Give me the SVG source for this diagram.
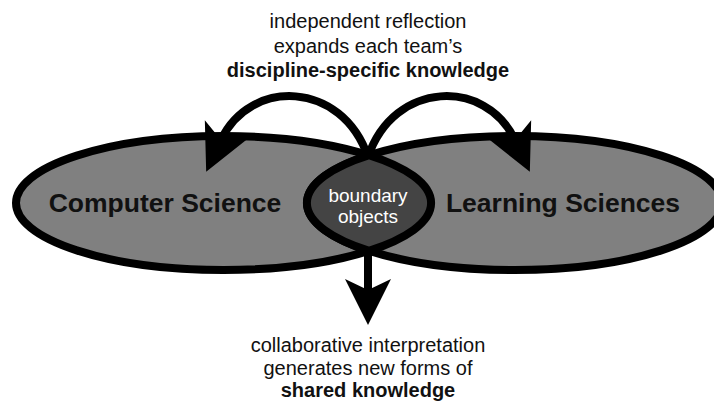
<svg xmlns="http://www.w3.org/2000/svg" width="714" height="401" viewBox="0 0 714 401">
  <style>
    .disc { fill: #808080; stroke: #000; stroke-width: 8; }
    .lens { fill: #444; stroke: #000; stroke-width: 8; stroke-linejoin: miter; }
    .big { font-family: "Liberation Sans", Arial, sans-serif; font-weight: bold; font-size: 26.5px; fill: #111; text-anchor: middle; }
    .small { font-family: "Liberation Sans", Arial, sans-serif; font-size: 19px; fill: #fff; text-anchor: middle; }
    .cap { font-family: "Liberation Sans", Arial, sans-serif; font-size: 20px; fill: #111; text-anchor: middle; }
    .capb { font-weight: bold; }
    .conn { fill: none; stroke: #000; stroke-width: 8; }
  </style>
  <defs>
    <marker id="head" markerUnits="userSpaceOnUse" viewBox="-15 -26 55 52" markerWidth="55" markerHeight="52" refX="0" refY="0" orient="auto" overflow="visible">
      <path d="M-11,-23 L35,0 L-11,23 L0,0 Z" fill="#000"/>
    </marker>
  </defs>
  <rect width="714" height="401" fill="#fff"/>

  <g id="computer-science">
    <ellipse class="disc" cx="223.5" cy="203" rx="207.5" ry="67"/>
    <text class="big" x="165" y="212">Computer Science</text>
  </g>

  <g id="learning-sciences">
    <ellipse class="disc" cx="514.5" cy="203" rx="207.5" ry="67"/>
    <text class="big" x="563" y="212">Learning Sciences</text>
  </g>

  <g id="boundary-objects">
    <path class="lens" d="M369,155.2 A207.5,67 0 0 1 369,250.8 A207.5,67 0 0 1 369,155.2 Z"/>
    <text class="small" x="368" y="202">boundary</text>
    <text class="small" x="368" y="223">objects</text>
  </g>

  <g id="connectors">
    <path class="conn" d="M368,157 C342,80 250,78 221,140" marker-end="url(#head)"/>
    <path class="conn" d="M368,157 C394,80 486,78 515,140" marker-end="url(#head)"/>
    <path class="conn" d="M368,249 L368,290" marker-end="url(#head)"/>
  </g>

  <g id="top-caption">
    <text class="cap" x="368" y="28">independent reflection</text>
    <text class="cap" x="368" y="52.5">expands each team’s</text>
    <text class="cap capb" x="368" y="77">discipline-specific knowledge</text>
  </g>

  <g id="bottom-caption">
    <text class="cap" x="368" y="352">collaborative interpretation</text>
    <text class="cap" x="368" y="374.5">generates new forms of</text>
    <text class="cap capb" x="368" y="397">shared knowledge</text>
  </g>
</svg>
